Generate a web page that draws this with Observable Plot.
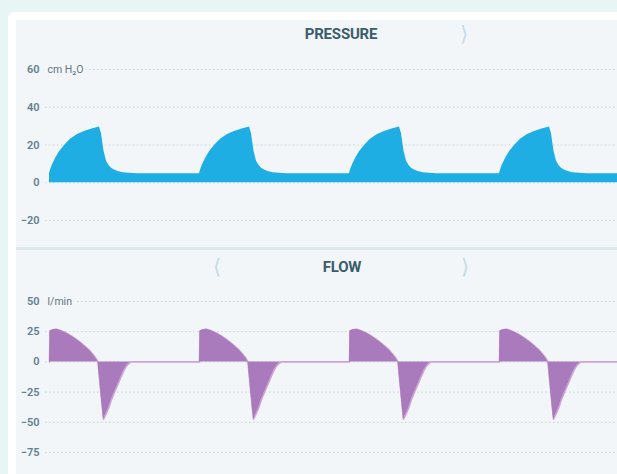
<!DOCTYPE html>
<html><head><meta charset="utf-8">
<script src="https://cdn.jsdelivr.net/npm/d3@7"></script>
<script src="https://cdn.jsdelivr.net/npm/@observablehq/plot@0.6"></script>
<style>
body{margin:0;width:617px;height:474px;overflow:hidden;background:#e8f5f5;position:relative;font-family:Roboto,sans-serif}
.card{position:absolute;left:8px;top:12px;right:0;bottom:0;background:#fff;border-top-left-radius:6px}
.panel{position:absolute;left:16px;top:20px;right:0;bottom:0;background:#f2f6f9}
.sep{position:absolute;left:16px;right:0;top:247px;height:3px;background:#e1e8ec}
.title{position:absolute;font-weight:700;font-size:15px;color:#3b5d6b;transform:translate(-50%,-50%);white-space:nowrap;letter-spacing:-0.2px}
.chev{position:absolute;font-family:"DejaVu Sans",sans-serif;font-size:21px;color:#c4dbe8;transform:translate(-50%,-50%)}
.chart{position:absolute;left:0}
</style></head>
<body>
<div class="card"></div>
<div class="panel"></div>
<div class="sep"></div>
<div class="title" style="left:341px;top:34px">PRESSURE</div>
<div class="chev" style="left:464px;top:34px">⟩</div>
<div class="title" style="left:342px;top:267px">FLOW</div>
<div class="chev" style="left:217px;top:267px">⟨</div>
<div class="chev" style="left:465px;top:267px">⟩</div>
<div id="p" class="chart" style="top:50px"></div>
<div id="f" class="chart" style="top:285px"></div>
<script>
// time in seconds; breath cycles
const breathStarts = [0, 3, 6, 9];
const traceEnd = 11.36;

// Pressure (cm H2O) – one breath, offsets from breath start
const pressureT = [0, 0.02, 0.06, 0.12, 0.2, 0.3, 0.42, 0.56, 0.7, 0.85, 1.0, 1.04, 1.09, 1.14, 1.19, 1.24, 1.3, 1.37, 1.47, 1.6, 1.75];
const pressureV = [4.8, 6.8, 9.5, 12.8, 16.4, 19.8, 23, 25.5, 27.2, 28.5, 29.5, 25.9, 16.7, 11.4, 9.2, 7.7, 6.7, 5.9, 5.3, 5.0, 4.8];
const pressureEndV = 4.8;
const pressureTicks = [60, 40, 20, 0, -20];
const pressureUnit = "cm H₂O";

// Flow (l/min) – one breath, offsets from breath start
const flowT = [0, 0.01, 0.07, 0.14, 0.22, 0.30, 0.38, 0.45, 0.53, 0.62, 0.71, 0.80, 0.86, 0.92, 0.97, 1.01, 1.05, 1.08, 1.12, 1.18, 1.24, 1.31, 1.38, 1.44, 1.49, 1.54, 1.59, 1.64];
const flowV = [0, 25.5, 26.6, 27, 26, 24.5, 22.8, 21, 18.8, 16, 12.8, 9.5, 6.5, 3.5, 0, -18, -35, -47.5, -44, -38.5, -31, -24, -17.5, -11.5, -7, -3.3, -1.2, 0];
const flowEndV = 0;
const flowTicks = [50, 25, 0, -25, -50, -75];
const flowUnit = "l/min";

function build(T, V, endV) {
  return breathStarts.flatMap(s => T.map((t, i) => ({t: s + t, v: V[i]})))
    .concat([{t: traceEnd, v: endV}]);
}

function panel(data, ticks, unit, fill, line, opts) {
  const yDom = [d3.min(ticks), d3.max(ticks)];
  const marks = [
    Plot.ruleY(ticks, {stroke: "#c9d3da", strokeDasharray: "1.5,2.5", insetLeft: -4}),
  ];
  if (line) marks.push(Plot.lineY(data, {x: "t", y: "v", stroke: line, strokeWidth: 1.6}));
  marks.push(Plot.areaY(data, {x: "t", y: "v", fill}));
  marks.push(Plot.axisY({ticks, label: null, tickSize: 0, tickPadding: 10, fontSize: 11, fontWeight: 600}));
  marks.push(Plot.text([{t: 0, v: yDom[1], label: unit}], {
    x: "t", y: "v", text: "label", textAnchor: "start", dx: -2, fontSize: 10.5,
    fill: "#66757e", stroke: "#f2f6f9", strokeWidth: 6, paintOrder: "stroke"
  }));
  return Plot.plot({
    width: 617, height: opts.height,
    marginLeft: 49, marginRight: 0, marginTop: opts.top, marginBottom: opts.bottom,
    x: {domain: [0, traceEnd], axis: null},
    y: {domain: yDom, axis: null},
    style: {background: "transparent", overflow: "visible", fontFamily: "Roboto, sans-serif", color: "#62808f"},
    marks
  });
}

document.getElementById("p").append(
  panel(build(pressureT, pressureV, pressureEndV), pressureTicks, pressureUnit, "#1eaee3", null, {height: 197, top: 19, bottom: 27})
);
document.getElementById("f").append(
  panel(build(flowT, flowV, flowEndV), flowTicks, flowUnit, "#a97bbd", "#cfa3d6", {height: 189, top: 16, bottom: 22})
);
</script>
</body></html>
